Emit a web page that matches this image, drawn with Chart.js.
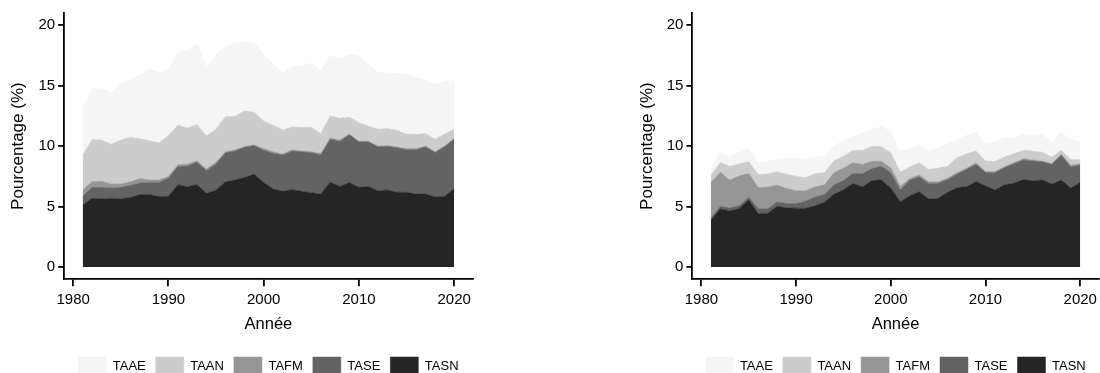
<!DOCTYPE html>
<html><head><meta charset="utf-8">
<script src="https://cdn.jsdelivr.net/npm/chart.js@4/dist/chart.umd.min.js"></script>
<style>
html,body{margin:0;padding:0;background:#fff;overflow:hidden}
#wrap{position:relative;width:1100px;height:373px;overflow:hidden;background:#fff}
.box{position:absolute;top:0;width:550px;height:385px}
</style></head><body>
<div id="wrap">
<div class="box" style="left:0"><canvas id="c1" width="550" height="385"></canvas></div>
<div class="box" style="left:550px"><canvas id="c2" width="550" height="385"></canvas></div>
</div>
<script>
// Categories
const years = [1981,1982,1983,1984,1985,1986,1987,1988,1989,1990,
               1991,1992,1993,1994,1995,1996,1997,1998,1999,2000,
               2001,2002,2003,2004,2005,2006,2007,2008,2009,2010,
               2011,2012,2013,2014,2015,2016,2017,2018,2019,2020];
const seriesNames = ['TASN','TASE','TAFM','TAAN','TAAE'];
const seriesColors = ['#252525','#636363','#969696','#cccccc','#f5f5f5'];
const xTicks = [1980,1990,2000,2010,2020];
const yTicks = [0,5,10,15,20];
const xTitle = 'Année';
const yTitle = 'Pourcentage (%)';

// Left panel values (%)
const leftTASN = [5.14,5.68,5.65,5.70,5.65,5.75,6.00,6.00,5.83,5.85,
                  6.81,6.65,6.83,6.10,6.37,7.06,7.19,7.41,7.69,7.00,
                  6.46,6.26,6.40,6.26,6.15,6.04,7.03,6.67,7.00,6.60,
                  6.67,6.32,6.37,6.18,6.18,6.04,6.04,5.80,5.85,6.50];
const leftTASE = [0.71,0.91,0.94,0.83,0.94,1.00,0.95,1.00,1.17,1.51,
                  1.51,1.70,1.85,1.87,2.15,2.39,2.41,2.49,2.36,2.66,
                  2.94,3.00,3.20,3.27,3.32,3.22,3.54,3.73,3.93,3.75,
                  3.68,3.61,3.60,3.69,3.52,3.66,3.89,3.67,4.10,4.08];
const leftTAFM = [0.52,0.49,0.51,0.34,0.28,0.30,0.38,0.20,0.20,0.14,
                  0.14,0.15,0.11,0.13,0.14,0.08,0.10,0.07,0.05,0.14,
                  0.13,0.09,0.10,0.07,0.06,0.14,0.09,0.10,0.06,0.05,
                  0.05,0.07,0.08,0.06,0.10,0.10,0.07,0.06,0.05,0.05];
const leftTAAN = [2.89,3.46,3.40,3.29,3.63,3.69,3.27,3.25,3.07,3.35,
                  3.27,3.00,2.99,2.75,2.74,2.91,2.76,2.93,2.70,2.28,
                  2.20,1.99,1.90,1.95,2.02,1.64,1.84,1.80,1.41,1.54,
                  1.27,1.40,1.40,1.37,1.19,1.15,1.04,1.04,0.99,0.77];
const leftTAAE = [3.84,4.21,4.25,4.24,4.66,4.76,5.27,5.95,5.83,5.45,
                  6.07,6.40,6.72,5.65,6.20,5.76,6.04,5.70,5.75,5.52,
                  5.07,4.76,5.00,5.05,5.31,5.22,5.00,4.95,5.20,5.51,
                  5.13,4.70,4.55,4.70,5.01,4.75,4.42,4.53,4.39,4.00];

// Right panel values (%)
const rightTASN = [3.90,4.81,4.66,4.85,5.56,4.42,4.45,5.02,4.90,4.87,
                   4.87,5.08,5.35,6.04,6.39,6.91,6.64,7.15,7.22,6.53,
                   5.41,5.90,6.23,5.63,5.68,6.18,6.58,6.64,7.08,6.72,
                   6.37,6.81,6.94,7.24,7.13,7.19,6.86,7.19,6.53,7.00];
const rightTASE = [0.15,0.21,0.24,0.23,0.24,0.40,0.37,0.36,0.35,0.38,
                   0.58,0.72,0.65,0.76,0.76,0.84,1.08,1.00,1.11,1.27,
                   0.99,1.29,1.23,1.28,1.26,1.06,1.10,1.45,1.42,1.09,
                   1.42,1.41,1.61,1.61,1.64,1.51,1.64,2.06,1.75,1.44];
const rightTAFM = [2.95,2.83,2.29,2.46,1.95,1.76,1.81,1.40,1.25,1.06,
                   0.85,0.85,0.80,1.00,1.03,0.88,0.76,0.60,0.42,0.42,
                   0.28,0.13,0.16,0.14,0.11,0.11,0.13,0.08,0.13,0.09,
                   0.11,0.08,0.08,0.11,0.08,0.07,0.05,0.10,0.14,0.11];
const rightTAAN = [0.60,0.80,1.14,1.01,0.95,1.07,1.07,1.10,1.18,1.19,
                   1.08,1.09,1.00,1.00,0.98,1.03,1.15,1.23,1.20,1.23,
                   1.17,0.96,1.01,1.01,1.12,1.01,1.23,1.20,0.96,0.87,
                   0.82,0.80,0.74,0.69,0.74,0.73,0.55,0.30,0.48,0.35];
const rightTAAE = [0.60,0.80,0.82,0.95,1.07,0.95,1.03,1.05,1.34,1.47,
                   1.54,1.41,1.38,1.25,1.27,1.16,1.47,1.42,1.65,1.78,
                   1.70,1.53,1.47,1.47,1.69,1.83,1.51,1.53,1.56,1.42,
                   1.68,1.60,1.33,1.31,1.23,1.46,1.23,1.50,1.65,1.43];

const FONT = "'Liberation Sans', Arial, Helvetica, sans-serif";
Chart.defaults.font.family = FONT;
Chart.defaults.color = '#000';

function makeChart(id, arrays, padLeft, padRight) {
  const datasets = arrays.map((arr, i) => ({
    label: seriesNames[i],
    data: arr.map((v, j) => ({x: years[j], y: v})),
    backgroundColor: seriesColors[i],
    borderColor: seriesColors[i],
    borderWidth: 0.5,
    pointRadius: 0,
    pointHoverRadius: 0,
    tension: 0,
    fill: i === 0 ? 'origin' : '-1'
  }));
  return new Chart(document.getElementById(id), {
    type: 'line',
    data: {datasets},
    options: {
      responsive: false,
      animation: false,
      devicePixelRatio: 1,
      events: [],
      layout: {padding: {left: padLeft, right: padRight, top: 13, bottom: 0}},
      plugins: {
        tooltip: {enabled: false},
        legend: {
          position: 'bottom',
          fullSize: false,
          reverse: true,
          labels: {
            boxWidth: 28, boxHeight: 18, padding: 10,
            color: '#000',
            font: {size: 13, family: FONT}
          }
        }
      },
      scales: {
        x: {
          type: 'linear',
          min: 1979.05, max: 2021.95,
          afterBuildTicks: s => { s.ticks = xTicks.map(v => ({value: v})); },
          afterFit: s => { s.paddingLeft = 0; s.paddingRight = 0; },
          ticks: {
            color: '#000', font: {size: 15}, padding: 5, maxRotation: 0,
            callback: v => String(v)
          },
          grid: {display: true, drawOnChartArea: false, drawTicks: true,
                 tickLength: 7, color: '#000', lineWidth: 1.8},
          border: {display: true, color: '#000', width: 1.8},
          title: {display: true, text: xTitle, color: '#000',
                  font: {size: 16.5}, padding: {top: 0, bottom: 13}}
        },
        y: {
          stacked: true,
          min: -1, max: 21,
          afterBuildTicks: s => { s.ticks = yTicks.map(v => ({value: v})); },
          ticks: {color: '#000', font: {size: 15}, padding: 3},
          grid: {display: true, drawOnChartArea: false, drawTicks: true,
                 tickLength: 6, color: '#000', lineWidth: 1.8},
          border: {display: true, color: '#000', width: 1.8},
          title: {display: true, text: yTitle, color: '#000',
                  font: {size: 17}, padding: {top: 8.5, bottom: 6.5}}
        }
      }
    }
  });
}

makeChart('c1', [leftTASN, leftTASE, leftTAFM, leftTAAN, leftTAAE], 0, 77.3);
makeChart('c2', [rightTASN, rightTASE, rightTAFM, rightTAAN, rightTAAE], 78.3, 1.3);
</script>
</body></html>
